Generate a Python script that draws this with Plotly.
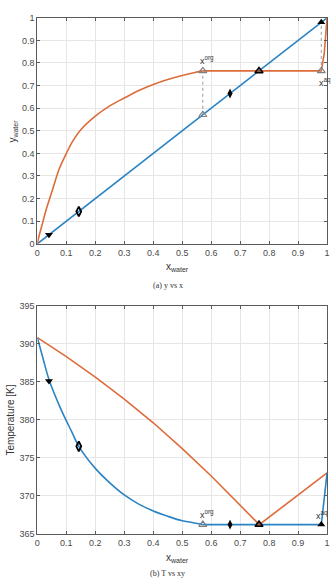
import plotly.graph_objects as go

# ---------------- data: (a) y vs x ----------------
x_diag = [0.0, 1.0]
y_diag = [0.0, 1.0]
x_eq = [0, 0.005, 0.017, 0.03, 0.05, 0.075, 0.1, 0.12, 0.15, 0.2, 0.25, 0.3, 0.35,
        0.4, 0.45, 0.5, 0.54, 0.571, 0.98, 0.99, 0.995, 1.0]
y_eq = [0, 0.03, 0.087, 0.15, 0.23, 0.33, 0.40, 0.45, 0.505, 0.565, 0.61, 0.645, 0.678,
        0.705, 0.727, 0.745, 0.757, 0.765, 0.765, 0.84, 0.92, 1.0]
x_org = 0.571
x_aq = 0.98
x_az = 0.765
y_az = 0.765
x_feed1 = 0.04
x_feed2 = 0.143
x_feed3 = 0.665

# ---------------- data: (b) T vs xy ----------------
x_dew = [0, 0.1, 0.2, 0.3, 0.4, 0.5, 0.6, 0.7, 0.766, 1.0]
T_dew = [390.8, 388.3, 385.6, 382.7, 379.6, 376.2, 372.6, 368.8, 366.2, 373.0]
x_bub = [0, 0.02, 0.04, 0.08, 0.12, 0.143, 0.2, 0.25, 0.3, 0.35, 0.4, 0.45, 0.5,
         0.53, 0.571, 0.98, 1.0]
T_bub = [390.8, 388.0, 385.3, 381.5, 378.3, 376.5, 373.6, 371.7, 370.1, 368.9,
         368.0, 367.3, 366.7, 366.5, 366.2, 366.2, 373.0]
T_het = 366.2
T_feed1 = 385.1
T_feed2 = 376.5

x_ticks = [0, 0.1, 0.2, 0.3, 0.4, 0.5, 0.6, 0.7, 0.8, 0.9, 1]
x_tick_text = ["0", "0.1", "0.2", "0.3", "0.4", "0.5", "0.6", "0.7", "0.8", "0.9", "1"]
y_ticks_a = [0, 0.1, 0.2, 0.3, 0.4, 0.5, 0.6, 0.7, 0.8, 0.9, 1]
y_tick_text_a = ["0", "0.1", "0.2", "0.3", "0.4", "0.5", "0.6", "0.7", "0.8", "0.9", "1"]
y_ticks_b = [365, 370, 375, 380, 385, 390, 395]

BLUE = "#2a84c4"
ORANGE = "#dd6c3a"
W, H = 335, 580

fig = go.Figure()

# split indices (curved part vs flat / right part)
i_org_eq = x_eq.index(x_org)
i_org_bub = x_bub.index(x_org)

# ---- top panel ----
fig.add_trace(go.Scatter(x=x_diag, y=y_diag, mode="lines", line=dict(color=BLUE, width=1.6),
                         xaxis="x", yaxis="y"))
fig.add_trace(go.Scatter(x=x_eq[:i_org_eq + 1], y=y_eq[:i_org_eq + 1], mode="lines",
                         line=dict(color=ORANGE, width=1.6, shape="spline", smoothing=1),
                         xaxis="x", yaxis="y"))
fig.add_trace(go.Scatter(x=x_eq[i_org_eq:], y=y_eq[i_org_eq:], mode="lines",
                         line=dict(color=ORANGE, width=1.6), xaxis="x", yaxis="y"))
# dotted tie lines
fig.add_trace(go.Scatter(x=[x_org, x_org], y=[x_org, y_az], mode="lines",
                         line=dict(color="#999999", width=1, dash="dot"), xaxis="x", yaxis="y"))
fig.add_trace(go.Scatter(x=[x_aq, x_aq], y=[y_az, x_aq], mode="lines",
                         line=dict(color="#999999", width=1, dash="dot"), xaxis="x", yaxis="y"))
# markers
fig.add_trace(go.Scatter(x=[x_feed1], y=[x_feed1], mode="markers", xaxis="x", yaxis="y",
                         marker=dict(symbol="triangle-down", size=7, color="black")))
fig.add_trace(go.Scatter(x=[x_feed2], y=[x_feed2], mode="markers", xaxis="x", yaxis="y",
                         marker=dict(symbol="diamond-tall-open", size=7, color="black",
                                     line=dict(width=1.8))))
fig.add_trace(go.Scatter(x=[x_org, x_org, x_aq], y=[y_az, x_org, y_az], mode="markers",
                         xaxis="x", yaxis="y",
                         marker=dict(symbol="triangle-up-open", size=7, color="#808080",
                                     line=dict(width=1.2))))
fig.add_trace(go.Scatter(x=[x_feed3], y=[x_feed3], mode="markers", xaxis="x", yaxis="y",
                         marker=dict(symbol="diamond-tall", size=7, color="black")))
fig.add_trace(go.Scatter(x=[x_az], y=[y_az], mode="markers", xaxis="x", yaxis="y",
                         marker=dict(symbol="triangle-up", size=7, color="#8a5a48",
                                     line=dict(color="black", width=1.5))))
fig.add_trace(go.Scatter(x=[x_aq], y=[x_aq], mode="markers", xaxis="x", yaxis="y",
                         marker=dict(symbol="triangle-up", size=7, color="black")))

# ---- bottom panel ----
fig.add_trace(go.Scatter(x=x_dew, y=T_dew, mode="lines",
                         line=dict(color=ORANGE, width=1.6),
                         xaxis="x2", yaxis="y2"))
fig.add_trace(go.Scatter(x=x_bub[:i_org_bub + 1], y=T_bub[:i_org_bub + 1], mode="lines",
                         line=dict(color=BLUE, width=1.6, shape="spline", smoothing=1),
                         xaxis="x2", yaxis="y2"))
fig.add_trace(go.Scatter(x=x_bub[i_org_bub:], y=T_bub[i_org_bub:], mode="lines",
                         line=dict(color=BLUE, width=1.6), xaxis="x2", yaxis="y2"))
fig.add_trace(go.Scatter(x=[x_feed1], y=[T_feed1], mode="markers", xaxis="x2", yaxis="y2",
                         marker=dict(symbol="triangle-down", size=7, color="black")))
fig.add_trace(go.Scatter(x=[x_feed2], y=[T_feed2], mode="markers", xaxis="x2", yaxis="y2",
                         marker=dict(symbol="diamond-tall-open", size=7, color="black",
                                     line=dict(width=1.8))))
fig.add_trace(go.Scatter(x=[x_org], y=[T_het], mode="markers", xaxis="x2", yaxis="y2",
                         marker=dict(symbol="triangle-up-open", size=7, color="#808080",
                                     line=dict(width=1.2))))
fig.add_trace(go.Scatter(x=[x_feed3], y=[T_het], mode="markers", xaxis="x2", yaxis="y2",
                         marker=dict(symbol="diamond-tall", size=7, color="black")))
fig.add_trace(go.Scatter(x=[x_az], y=[T_het], mode="markers", xaxis="x2", yaxis="y2",
                         marker=dict(symbol="triangle-up", size=7, color="#8a5a48",
                                     line=dict(color="black", width=1.5))))
fig.add_trace(go.Scatter(x=[x_aq], y=[T_het], mode="markers", xaxis="x2", yaxis="y2",
                         marker=dict(symbol="triangle-up", size=7, color="black")))

x0, x1 = 35 / W, 330 / W
ya = [1 - 243 / H, 1 - 13 / H]
yb = [1 - 538 / H, 1 - 306 / H]

TICKFONT = dict(family="Liberation Sans, Arial, sans-serif", size=9, color="#4a4a4a")
axis_common = dict(showgrid=True, gridcolor="#e6e6e6", gridwidth=1, showline=True,
                   linecolor="#5a5a5a", linewidth=1, mirror="ticks", ticks="inside",
                   ticklen=3, tickcolor="#5a5a5a", tickfont=TICKFONT, zeroline=False)

TITLEFONT = dict(family="Liberation Sans, Arial, sans-serif", size=10, color="#333333")

fig.update_layout(
    width=W, height=H, margin=dict(l=0, r=0, t=0, b=0),
    paper_bgcolor="white", plot_bgcolor="white", showlegend=False,
    hovermode=False,
    xaxis=dict(domain=[x0, x1], range=[0, 1], tickvals=x_ticks, ticktext=x_tick_text,
               anchor="y", **axis_common),
    yaxis=dict(domain=ya, range=[0, 1], tickvals=y_ticks_a, ticktext=y_tick_text_a,
               anchor="x", **axis_common),
    xaxis2=dict(domain=[x0, x1], range=[0, 1], tickvals=x_ticks, ticktext=x_tick_text,
                anchor="y2", **axis_common),
    yaxis2=dict(domain=yb, range=[365, 395], tickvals=y_ticks_b, anchor="x2", **axis_common),
)

C = dict(xanchor="center", yanchor="middle", xref="paper", yref="paper", showarrow=False)
ann = []
# axis titles
ann.append(dict(text="x<sub>water</sub>", x=178 / W, y=1 - 267 / H, font=TITLEFONT, **C))
ann.append(dict(text="y<sub>water</sub>", x=10 / W, y=1 - 128 / H, font=TITLEFONT,
                textangle=-90, **C))
ann.append(dict(text="(a) y vs x", x=168 / W, y=1 - 285 / H,
                font=dict(family="Liberation Serif, serif", size=8, color="#333"), **C))
ann.append(dict(text="x<sub>water</sub>", x=178 / W, y=1 - 563 / H, font=TITLEFONT, **C))
ann.append(dict(text="Temperature [K]", x=8 / W, y=1 - 422 / H, font=TITLEFONT,
                textangle=-90, **C))
ann.append(dict(text="(b) T vs xy", x=168 / W, y=1 - 578 / H,
                font=dict(family="Liberation Serif, serif", size=8, color="#333"), **C))
# point labels
LBL = dict(family="Liberation Sans, Arial, sans-serif", size=9, color="#333333")
P = dict(showarrow=False, xanchor="center", yanchor="middle")
ann.append(dict(text="x<sup>org</sup>", x=x_org, y=y_az, xref="x", yref="y",
                yshift=11, xshift=4, font=LBL, **P))
ann.append(dict(text="x<sup>aq</sup>", x=x_aq, y=y_az, xref="x", yref="y",
                yshift=-11, xshift=4, font=LBL, **P))
ann.append(dict(text="x<sup>org</sup>", x=x_org, y=T_het, xref="x2", yref="y2",
                yshift=11, xshift=4, font=LBL, **P))
ann.append(dict(text="x<sup>aq</sup>", x=x_aq, y=T_het, xref="x2", yref="y2",
                yshift=10, xshift=1, font=LBL, **P))
fig.update_layout(annotations=ann)

fig.write_html("out.html")
